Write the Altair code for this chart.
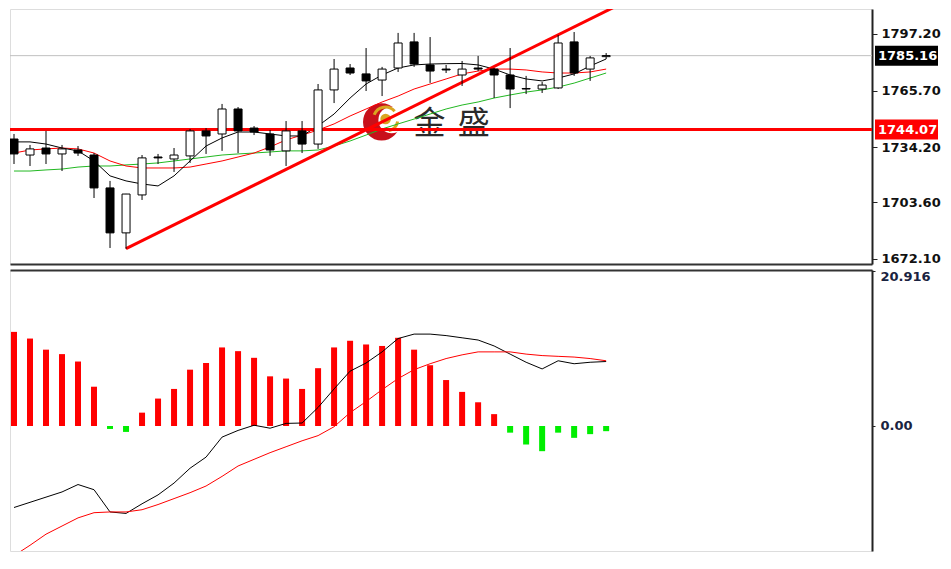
import altair as alt
import pandas as pd

# ---------------- data ----------------
candle_index = list(range(38))
opens = [1738.8, 1729.9, 1733.8, 1730.5, 1732.7, 1729.9, 1711.6, 1686.6, 1707.7, 1728.8,
         1727.7, 1729.4, 1743.3, 1741.6, 1755.5, 1744.9, 1741.6, 1732.2, 1743.3, 1736.0,
         1766.1, 1778.3, 1775.0, 1771.6, 1778.3, 1792.8, 1780.0, 1777.7, 1774.4, 1778.3,
         1777.7, 1774.4, 1766.9, 1766.6, 1767.2, 1792.8, 1777.7, 1784.6]
highs = [1741.6, 1735.5, 1743.3, 1735.5, 1734.9, 1731.0, 1715.5, 1708.3, 1729.9, 1730.5,
         1733.8, 1744.4, 1744.9, 1758.3, 1756.6, 1746.0, 1743.8, 1748.8, 1748.8, 1769.4,
         1783.3, 1780.5, 1789.4, 1778.9, 1797.8, 1797.8, 1795.5, 1780.0, 1782.2, 1785.0,
         1778.3, 1789.4, 1773.9, 1770.5, 1796.6, 1798.3, 1785.0, 1786.6]
lows = [1724.9, 1723.8, 1724.9, 1721.0, 1729.4, 1706.0, 1678.2, 1677.7, 1704.9, 1724.9,
        1720.5, 1725.5, 1730.5, 1732.2, 1731.0, 1741.0, 1729.4, 1723.8, 1731.0, 1733.3,
        1758.8, 1774.4, 1765.5, 1762.7, 1776.1, 1778.9, 1770.0, 1775.5, 1768.3, 1776.6,
        1761.6, 1756.0, 1763.8, 1764.4, 1766.6, 1773.9, 1771.1, 1783.3]
closes = [1730.5, 1733.3, 1730.5, 1733.3, 1731.0, 1711.6, 1686.6, 1708.2, 1728.3, 1728.3,
          1729.9, 1743.3, 1740.5, 1755.5, 1743.3, 1742.7, 1732.7, 1743.3, 1736.0, 1766.1,
          1777.7, 1775.5, 1771.1, 1777.7, 1792.2, 1780.5, 1776.6, 1777.2, 1777.7, 1777.7,
          1774.4, 1766.6, 1766.6, 1768.8, 1792.2, 1775.5, 1783.9, 1785.2]

ma_black = [1737.2, 1737.2, 1736.0, 1733.8, 1732.2, 1726.6, 1718.3, 1715.5, 1713.8, 1712.7,
            1718.3, 1726.6, 1734.9, 1739.4, 1742.7, 1742.7, 1741.6, 1740.5, 1740.5, 1746.1,
            1752.7, 1761.6, 1769.4, 1774.4, 1778.3, 1780.0, 1780.5, 1780.7, 1780.8, 1780.0,
            1777.7, 1774.4, 1772.2, 1771.1, 1772.7, 1775.0, 1779.4, 1783.3]
ma_red = [1731.0, 1732.7, 1733.3, 1733.8, 1733.3, 1731.0, 1726.6, 1723.8, 1722.7, 1722.7,
          1722.7, 1723.2, 1724.9, 1726.6, 1728.8, 1731.0, 1734.4, 1738.3, 1741.0, 1743.8,
          1747.2, 1751.6, 1755.5, 1759.4, 1762.7, 1766.6, 1769.4, 1772.2, 1775.0, 1776.6,
          1777.7, 1777.7, 1777.2, 1776.1, 1775.5, 1775.5, 1776.1, 1777.7]
ma_green = [1721.0, 1721.0, 1721.6, 1722.1, 1723.2, 1723.8, 1723.8, 1724.4, 1724.9, 1725.5,
            1726.6, 1727.7, 1728.8, 1729.9, 1730.5, 1731.0, 1731.6, 1732.2, 1732.2, 1732.7,
            1734.9, 1737.7, 1741.0, 1744.4, 1747.2, 1749.9, 1752.7, 1755.5, 1757.7, 1759.4,
            1761.6, 1763.3, 1764.9, 1766.1, 1767.7, 1769.9, 1772.7, 1775.5]

hist = [12.7, 11.8, 10.3, 9.7, 8.7, 5.3, -0.4, -0.8, 1.8, 3.7,
        5.0, 7.6, 8.5, 10.6, 10.1, 9.2, 6.7, 6.4, 5.0, 7.8,
        10.6, 11.5, 11.0, 10.8, 11.9, 10.3, 8.2, 6.2, 4.6, 3.2,
        1.6, -0.9, -2.5, -3.4, -0.9, -1.6, -1.1, -0.7]
macd_black = [-11.0, -10.3, -9.6, -8.9, -7.9, -8.6, -11.6, -11.8, -10.5, -9.3,
              -7.7, -5.7, -4.2, -1.5, -0.6, 0.1, -0.3, 0.35, 0.4, 2.5,
              5.0, 7.4, 8.5, 10.0, 11.8, 12.4, 12.4, 12.2, 11.9, 11.6,
              10.8, 9.7, 8.6, 7.7, 8.8, 8.4, 8.6, 8.7]
macd_red = [-17.5, -16.1, -14.6, -13.5, -12.4, -11.7, -11.6, -11.6, -11.3, -10.6,
            -9.8, -9.0, -8.1, -6.8, -5.4, -4.5, -3.6, -2.8, -2.0, -1.3,
            -0.1, 1.8, 3.3, 4.9, 6.4, 7.6, 8.4, 9.1, 9.6, 10.0,
            10.0, 10.0, 9.7, 9.5, 9.4, 9.3, 9.1, 8.8]

price_ticks = [1797.20, 1765.70, 1734.20, 1703.60, 1672.10]
macd_ticks = [20.916, 0.0]
support_level = 1744.07
current_price = 1785.16
trend_x = [7, 37.9]
trend_price = [1677.9, 1813.9]

logo_chars = ["金", "盛"]
logo_char_x = [25.97, 28.72]
logo_char_price = [1747.4, 1747.4]
logo_disc_x = [22.97, 23.6, 23.22]
logo_disc_price = [1748.3, 1749.4, 1749.9]
logo_disc_size = [1385, 707, 113]
logo_disc_color = ["#c8101a", "#ffffff", "#d9a520"]

# ---------------- tables ----------------
df = pd.DataFrame({"i": candle_index, "open": opens, "high": highs, "low": lows,
                   "close": closes, "ma_black": ma_black, "ma_red": ma_red,
                   "ma_green": ma_green, "hist": hist, "macd_black": macd_black,
                   "macd_red": macd_red})
trend_df = pd.DataFrame({"i": trend_x, "price": trend_price})
levels_df = pd.DataFrame({"price": [current_price, support_level],
                          "label": [f"{current_price:.2f}", f"{support_level:.2f}"],
                          "bg": ["black", "red"]})
chars_df = pd.DataFrame({"i": logo_char_x, "price": logo_char_price, "t": logo_chars})
disc_df = pd.DataFrame({"i": logo_disc_x, "price": logo_disc_price,
                        "s": logo_disc_size, "c": logo_disc_color, "o": [0, 1, 2]})
ring_df = pd.DataFrame({"i": [logo_disc_x[2]], "price": [logo_disc_price[2]]})

# ---------------- scales & axes ----------------
W = 862
H_TOP = 255
H_BOT = 281
xs = alt.Scale(domain=[0.062, 53.3], nice=False, zero=False)
ys_top = alt.Scale(domain=[1669.3, 1811.1], nice=False, zero=False)
ys_bot = alt.Scale(domain=[-16.87, 21.05], nice=False, zero=False)

AX_FONT = "DejaVu Sans"
x_axis_top = alt.Axis(orient="bottom", labels=False, ticks=False, grid=False, title=None,
                      domainColor="#333333", domainWidth=2)
x_axis_bot = alt.Axis(orient="top", labels=False, ticks=False, grid=False, title=None,
                      domainColor="#333333", domainWidth=2)
y_axis_top = alt.Axis(orient="right", values=price_ticks, format=".2f", grid=False,
                      title=None, tickSize=5, tickColor="#222222", domainColor="#222222",
                      domainWidth=2, labelFont=AX_FONT, labelFontSize=13,
                      labelFontWeight="bold", labelColor="#111111", labelPadding=4)
y_axis_bot = alt.Axis(orient="right", values=macd_ticks, grid=False, title=None,
                      labelExpr="datum.value == 0 ? '0.00' : '20.916'",
                      tickSize=3, tickColor="#222222", domainColor="#222222",
                      domainWidth=2, labelFont=AX_FONT, labelFontSize=13,
                      labelFontWeight="bold", labelColor="#1a2340", labelPadding=5,
                      labelBaseline={"condition": {"test": "datum.value > 10", "value": "top"},
                                     "value": "middle"})


def X(field="i", axis=x_axis_top):
    return alt.X(f"{field}:Q", scale=xs, axis=axis)


def YT(field):
    return alt.Y(f"{field}:Q", scale=ys_top, axis=y_axis_top)


def YB(field):
    return alt.Y(f"{field}:Q", scale=ys_bot, axis=y_axis_bot)


# ---------------- top panel ----------------
logo_discs = alt.Chart(disc_df).mark_circle(opacity=1).encode(
    x=X(), y=YT("price"), size=alt.Size("s:Q", scale=None, legend=None),
    color=alt.Color("c:N", scale=None, legend=None), order="o:Q")
logo_ring = alt.Chart(ring_df).mark_point(
    shape="M -0.95 -0.35 A 1 1 0 0 1 0.75 -0.65 M 1 0.2 A 1 1 0 0 1 0.25 0.97",
    filled=False, stroke="#d9a520", strokeWidth=3, size=580, opacity=1).encode(
    x=X(), y=YT("price"))
logo_text = alt.Chart(chars_df).mark_text(font="Noto Sans CJK SC", fontSize=32,
                                          color="#2a2a2a", baseline="middle",
                                          align="center").encode(
    x=X(), y=YT("price"), text="t:N")

ma_g = alt.Chart(df).mark_line(color="#22b822", strokeWidth=1, clip=True).encode(
    x=X(), y=YT("ma_green"))
ma_r = alt.Chart(df).mark_line(color="#ff0000", strokeWidth=1, clip=True).encode(
    x=X(), y=YT("ma_red"))
ma_b = alt.Chart(df).mark_line(color="#000000", strokeWidth=1, clip=True).encode(
    x=X(), y=YT("ma_black"))

gray_line = alt.Chart(levels_df.iloc[[0]]).mark_rule(color="#c0c0c0", strokeWidth=1).encode(
    y=YT("price"))
red_line = alt.Chart(levels_df.iloc[[1]]).mark_rule(color="#ff0000", strokeWidth=3).encode(
    y=YT("price"))
trend = alt.Chart(trend_df).mark_line(color="#ff0000", strokeWidth=3, clip=True).encode(
    x=X(), y=YT("price"))

wicks = alt.Chart(df).mark_rule(color="black", strokeWidth=1, clip=True).encode(
    x=X(), y=YT("low"), y2="high:Q")
bodies = alt.Chart(df).mark_bar(size=8, stroke="black", strokeWidth=1, clip=True).encode(
    x=X(), y=YT("open"), y2="close:Q",
    fill=alt.condition("datum.close >= datum.open", alt.value("white"), alt.value("black")))

tag_box = alt.Chart(levels_df).mark_rect(height=20).encode(
    x=alt.value(W + 3), x2=alt.value(W + 66), y=YT("price"),
    fill=alt.Color("bg:N", scale=None, legend=None))
tag_text = alt.Chart(levels_df).mark_text(align="left", baseline="middle", color="white",
                                          font=AX_FONT, fontSize=13, fontWeight="bold").encode(
    x=alt.value(W + 6), y=YT("price"), text="label:N")

top = alt.layer(logo_discs, logo_ring, logo_text, ma_g, ma_r, ma_b, gray_line, red_line,
                trend, wicks, bodies, tag_box, tag_text).properties(width=W, height=H_TOP)

# ---------------- bottom panel ----------------
bars = alt.Chart(df).mark_bar(size=6, clip=True).encode(
    x=X(axis=x_axis_bot), y=YB("hist"), y2=alt.datum(0),
    fill=alt.condition("datum.hist >= 0", alt.value("#ff0000"), alt.value("#00ee00")))
line_b = alt.Chart(df).mark_line(color="black", strokeWidth=1, clip=True).encode(
    x=X(axis=x_axis_bot), y=YB("macd_black"))
line_r = alt.Chart(df).mark_line(color="#ff0000", strokeWidth=1, clip=True).encode(
    x=X(axis=x_axis_bot), y=YB("macd_red"))

bottom = alt.layer(bars, line_b, line_r).properties(width=W, height=H_BOT)

chart = alt.vconcat(top, bottom, spacing=6, bounds="flush").configure_view(
    stroke=None).configure(background="white", padding=0)

chart.save("out.html", embed_options={"renderer": "svg", "actions": False})
